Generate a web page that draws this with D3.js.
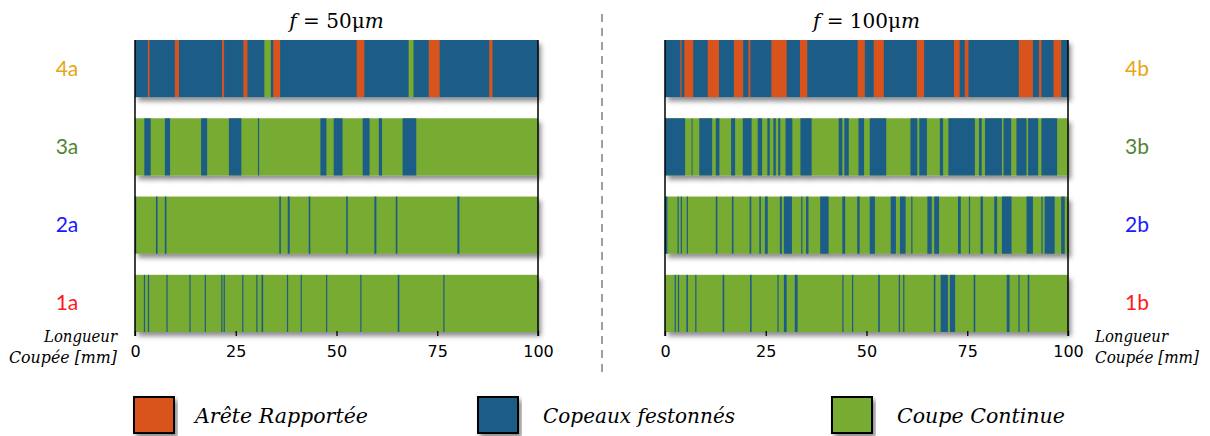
<!DOCTYPE html>
<html><head><meta charset="utf-8">
<script src="https://cdn.jsdelivr.net/npm/d3@7"></script>
<style>body{margin:0;background:#fff}svg{display:block}</style>
</head><body>
<svg id="c" width="1210" height="436"></svg>
<script>
// ---- data ----
const categories = ["Arête Rapportée", "Copeaux festonnés", "Coupe Continue"];
const catColors = ["#d9531e", "#1f5d87", "#78ab33"];
const titles = ["50", "100"];
const rowsA = ["4a", "3a", "2a", "1a"];
const rowsB = ["4b", "3b", "2b", "1b"];
const rowColors = ["#e6a514", "#548235", "#1a1aff", "#ff1a1a"];
const tickValues = [0, 25, 50, 75, 100];

// segments: [start mm, end mm, category index]
const seg4a = [[0,100,1],[3.2,3.6,0],[9.9,10.9,0],[21.6,22.1,0],[26.9,27.9,0],[32.1,33.7,2],[34.3,36.0,0],[55.0,56.9,0],[67.9,69.1,2],[72.9,75.6,0],[87.9,88.7,0]];
const seg3a = [[0,100,2],[2.3,3.9,1],[7.4,8.7,1],[16.4,17.9,1],[23.3,26.4,1],[30.5,30.8,1],[46.0,47.5,1],[49.3,51.5,1],[56.5,58.2,1],[60.5,61.3,1],[66.4,69.8,1]];
const seg2a = [[0,100,2],[0,0.3,1],[5.2,5.6,1],[7.4,7.8,1],[35.8,36.2,1],[37.9,38.4,1],[43.1,43.5,1],[52.4,52.8,1],[59.4,59.9,1],[64.7,65.1,1],[80.0,80.5,1]];
const seg1a = [[0,100,2],[2.2,2.5,1],[3.2,3.5,1],[7.8,8.1,1],[13.5,13.8,1],[17.3,17.6,1],[21.4,21.7,1],[22.0,22.3,1],[26.6,26.9,1],[30.1,30.4,1],[31.4,31.8,1],[37.7,38.0,1],[41.1,41.4,1],[47.4,47.7,1],[55.9,56.2,1],[65.2,65.6,1],[76.5,76.8,1]];

const seg4b = [[0,100,1],[3.8,4.1,0],[4.8,7.0,0],[10.6,13.4,0],[17.1,19.4,0],[20.7,21.2,0],[26.4,30.2,0],[33.5,35.3,0],[47.8,49.6,0],[51.8,54.3,0],[62.5,64.3,0],[71.7,73.1,0],[74.4,75.3,0],[87.8,91.3,0],[92.8,93.4,0],[96.4,98.3,0]];
const seg3b = [[0,100,2],[0,5.0,1],[6.6,6.8,1],[8.5,11.7,1],[12.6,13.5,1],[16.4,17.4,1],[19.3,21.5,1],[23.0,24.1,1],[25.4,26.0,1],[26.9,27.5,1],[28.1,28.6,1],[29.9,31.6,1],[33.6,36.4,1],[43.1,44.0,1],[44.5,45.6,1],[48.0,49.4,1],[50.8,54.9,1],[60.9,62.6,1],[63.1,65.0,1],[68.2,69.0,1],[70.3,76.9,1],[77.9,78.6,1],[79.4,83.6,1],[84.0,85.9,1],[87.2,89.7,1],[90.1,92.6,1],[93.4,97.3,1]];
const seg2b = [[0,100,2],[0,0.6,1],[3.1,3.4,1],[3.9,4.2,1],[5.4,5.7,1],[12.6,13.0,1],[16.6,17.0,1],[21.0,21.4,1],[23.4,23.8,1],[24.8,25.5,1],[28.5,29.0,1],[29.5,31.5,1],[33.8,34.1,1],[35.0,35.6,1],[38.5,40.6,1],[44.0,44.7,1],[47.7,48.3,1],[50.8,52.1,1],[56.0,57.3,1],[58.3,59.7,1],[61.1,61.4,1],[65.1,66.2,1],[66.8,68.0,1],[72.7,73.4,1],[75.4,75.7,1],[78.3,78.9,1],[81.7,82.4,1],[83.6,86.0,1],[89.7,91.3,1],[93.4,93.7,1],[94.2,96.7,1],[98.3,99.2,1]];
const seg1b = [[0,100,2],[2.4,2.7,1],[3.2,3.5,1],[5.3,5.7,1],[7.5,7.8,1],[14.3,14.7,1],[21.1,21.5,1],[27.9,28.2,1],[29.5,30.2,1],[32.2,32.9,1],[44.0,44.3,1],[46.4,46.7,1],[52.9,53.3,1],[58.0,58.3,1],[59.1,59.4,1],[66.7,67.1,1],[68.4,70.2,1],[70.7,72.0,1],[76.6,77.0,1],[84.8,85.5,1],[87.7,88.0,1],[90.0,90.4,1]];

const panelA = [seg4a, seg3a, seg2a, seg1a];
const panelB = [seg4b, seg3b, seg2b, seg1b];

// ---- drawing ----
const svg = d3.select("#c");
const defs = svg.append("defs");
const f = defs.append("filter").attr("id","sh").attr("x","-5%").attr("y","-20%").attr("width","115%").attr("height","150%");
f.append("feDropShadow").attr("dx",3).attr("dy",4).attr("stdDeviation",2.5).attr("flood-color","#000").attr("flood-opacity",0.45);

const y = d3.scaleBand().domain([0,1,2,3]).range([40, 332]).paddingInner(0.27).paddingOuter(0);
const axisY = 336;
const serif = "'DejaVu Serif', serif";

function italicText(x, yy, anchor, size, len, txt) {
  return svg.append("text").attr("x", x).attr("y", yy).attr("text-anchor", anchor)
    .attr("font-family", serif).attr("font-style", "italic").attr("font-size", size)
    .attr("textLength", len).attr("lengthAdjust", "spacingAndGlyphs").attr("fill", "#000").text(txt);
}

function panel(x0, x1, segs, labels, labelX, title, side) {
  const x = d3.scaleLinear().domain([0,100]).range([x0, x1]);
  const g = svg.append("g");
  segs.forEach((row, i) => {
    const rg = g.append("g").attr("filter","url(#sh)");
    rg.selectAll("rect").data(row).join("rect")
      .attr("x", d => x(d[0]))
      .attr("width", d => Math.max(0.9, x(d[1]) - x(d[0])))
      .attr("y", y(i)).attr("height", y.bandwidth())
      .attr("fill", d => catColors[d[2]]);
    svg.append("text").attr("x", labelX).attr("y", y(i) + y.bandwidth()/2 + 7)
      .attr("text-anchor","middle").attr("font-family","Lato, 'Open Sans', sans-serif")
      .attr("font-size", 21).attr("fill", rowColors[i]).text(labels[i]);
  });
  [0,100].forEach(v => {
    svg.append("line").attr("x1", x(v)).attr("x2", x(v)).attr("y1", 40).attr("y2", axisY)
      .attr("stroke","#000").attr("stroke-width",1.5);
  });
  const ax = svg.append("g").attr("transform", `translate(0,${axisY})`)
    .call(d3.axisBottom(x).tickValues(tickValues).tickSize(-5).tickPadding(10).tickFormat(d3.format("d")));
  ax.select(".domain").remove();
  ax.selectAll("line").attr("stroke","#000").attr("stroke-width",1.3);
  ax.selectAll("text").attr("font-family","'DejaVu Sans', sans-serif").attr("font-size",16).attr("fill","#000");
  const t = svg.append("text").attr("x", (x0 + x1)/2).attr("y", 28).attr("text-anchor","middle")
    .attr("font-family","'DejaVu Serif', serif").attr("font-size", 20).attr("fill","#000");
  t.append("tspan").attr("font-style","italic").text("f");
  t.append("tspan").text(" = " + title + "μ");
  t.append("tspan").attr("font-style","italic").text("m");
  if (side === "left") {
    italicText(117, 342, "end", 16, 73, "Longueur");
    italicText(117, 363, "end", 16, 108, "Coupée [mm]");
  } else {
    italicText(1095, 342, "start", 16, 73, "Longueur");
    italicText(1095, 363, "start", 16, 104, "Coupée [mm]");
  }
}

panel(135, 538, panelA, rowsA, 67, titles[0], "left");
panel(665, 1068, panelB, rowsB, 1137, titles[1], "right");

svg.append("line").attr("x1",602).attr("x2",602).attr("y1",14).attr("y2",376)
  .attr("stroke","#808080").attr("stroke-width",1.5).attr("stroke-dasharray","8,6");

const legX = [134, 478, 832];
const legTextX = [195, 543, 897];
const legLen = [173, 192, 168];
categories.forEach((c, i) => {
  svg.append("rect").attr("x", legX[i]).attr("y", 397).attr("width", 40).attr("height", 36)
    .attr("fill", catColors[i]).attr("stroke","#000").attr("stroke-width",2).attr("filter","url(#sh)");
  italicText(legTextX[i], 423, "start", 21, legLen[i], c);
});
</script>
</body></html>
